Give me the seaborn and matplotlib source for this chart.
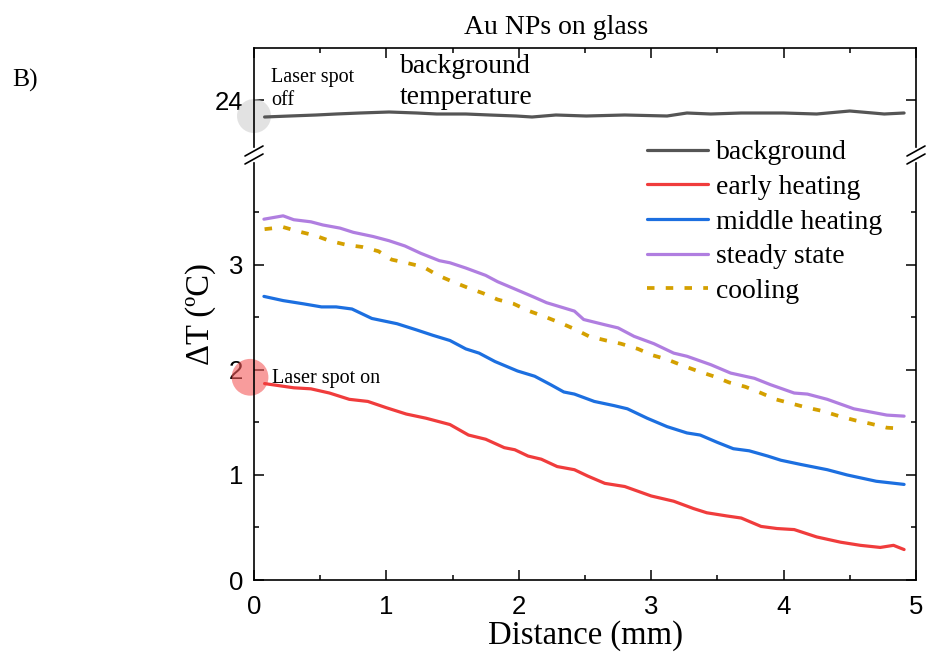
import numpy as np
import pandas as pd
import matplotlib
matplotlib.use("Agg")
import matplotlib.pyplot as plt
from matplotlib.lines import Line2D
import seaborn as sns

# ---------------- data ----------------
bg_x = [0.08, 0.27, 0.47, 0.62, 0.80, 1.02, 1.23, 1.38, 1.60, 1.78, 1.98, 2.10, 2.28, 2.51,
        2.80, 3.12, 3.27, 3.45, 3.68, 4.00, 4.25, 4.50, 4.76, 4.91]
bg_y = [23.83, 23.84, 23.85, 23.86, 23.87, 23.88, 23.87, 23.86, 23.86, 23.85, 23.84, 23.83, 23.85, 23.84,
        23.85, 23.84, 23.87, 23.86, 23.87, 23.87, 23.86, 23.89, 23.86, 23.87]

early_x = [0.08, 0.30, 0.43, 0.57, 0.72, 0.86, 1.00, 1.15, 1.30, 1.48, 1.62, 1.75, 1.89, 1.97, 2.07,
           2.17, 2.29, 2.42, 2.52, 2.65, 2.80, 3.00, 3.17, 3.32, 3.42, 3.57, 3.68, 3.83, 3.95, 4.08,
           4.25, 4.43, 4.58, 4.73, 4.83, 4.91]
early_y = [1.87, 1.83, 1.82, 1.78, 1.72, 1.70, 1.64, 1.58, 1.54, 1.48, 1.38, 1.34, 1.26, 1.24, 1.18,
           1.15, 1.08, 1.05, 0.99, 0.92, 0.89, 0.80, 0.75, 0.68, 0.64, 0.61, 0.59, 0.51, 0.49, 0.48,
           0.41, 0.36, 0.33, 0.31, 0.33, 0.29]

middle_x = [0.075, 0.22, 0.37, 0.51, 0.62, 0.74, 0.89, 1.08, 1.23, 1.35, 1.48, 1.60, 1.70, 1.82, 1.99,
            2.12, 2.24, 2.34, 2.42, 2.57, 2.72, 2.82, 2.97, 3.12, 3.27, 3.37, 3.50, 3.62, 3.74, 3.88,
            3.98, 4.13, 4.33, 4.48, 4.70, 4.91]
middle_y = [2.70, 2.66, 2.63, 2.60, 2.60, 2.58, 2.49, 2.44, 2.38, 2.33, 2.28, 2.20, 2.16, 2.08, 1.99,
            1.94, 1.86, 1.79, 1.77, 1.70, 1.66, 1.63, 1.54, 1.46, 1.40, 1.38, 1.31, 1.25, 1.23, 1.18,
            1.14, 1.10, 1.05, 1.00, 0.94, 0.91]

steady_x = [0.075, 0.22, 0.30, 0.43, 0.52, 0.65, 0.75, 0.90, 1.02, 1.14, 1.26, 1.40, 1.48, 1.60, 1.75,
            1.84, 1.99, 2.12, 2.21, 2.42, 2.49, 2.65, 2.75, 2.87, 3.02, 3.17, 3.27, 3.45, 3.60, 3.78,
            3.90, 4.08, 4.18, 4.33, 4.53, 4.78, 4.91]
steady_y = [3.435, 3.467, 3.43, 3.41, 3.38, 3.35, 3.31, 3.27, 3.23, 3.18, 3.11, 3.04, 3.02, 2.97, 2.90,
            2.84, 2.76, 2.69, 2.64, 2.56, 2.48, 2.43, 2.40, 2.32, 2.25, 2.16, 2.13, 2.05, 1.97, 1.92,
            1.86, 1.78, 1.77, 1.72, 1.63, 1.57, 1.56]

cool_x = [0.08, 0.22, 0.33, 0.46, 0.57, 0.70, 0.82, 0.94, 1.04, 1.15, 1.28, 1.39, 1.50, 1.62, 1.73,
          1.84, 1.96, 2.08, 2.19, 2.31, 2.42, 2.53, 2.66, 2.77, 2.90, 3.01, 3.12, 3.24, 3.35, 3.47,
          3.59, 3.71, 3.83, 3.94, 4.06, 4.18, 4.29, 4.42, 4.54, 4.65, 4.78, 4.91]
cool_y = [3.34, 3.36, 3.32, 3.28, 3.23, 3.19, 3.17, 3.13, 3.05, 3.02, 2.98, 2.90, 2.84, 2.78, 2.73,
          2.67, 2.63, 2.56, 2.51, 2.45, 2.39, 2.32, 2.28, 2.25, 2.20, 2.14, 2.10, 2.04, 1.99, 1.94,
          1.88, 1.84, 1.78, 1.72, 1.68, 1.64, 1.61, 1.56, 1.52, 1.49, 1.45, 1.44]

labels = ["background", "early heating", "middle heating", "steady state", "cooling"]
colors = ["#555555", "#f03c3c", "#1c6fe0", "#b07ee0", "#d4a000"]

x_ticks = [0, 1, 2, 3, 4, 5]
y_ticks_low = [0, 1, 2, 3]
y_ticks_top = [24]

laser_off_pt = (0.0, 23.84)
laser_on_pt = (-0.03, 1.93)

# ---------------- style ----------------
sns.set_style("ticks")
plt.rcParams["font.family"] = ["Liberation Sans", "DejaVu Sans"]
for key in ("text.color", "axes.labelcolor", "xtick.color", "ytick.color", "axes.edgecolor"):
    plt.rcParams[key] = "black"
serif = ["Liberation Serif", "DejaVu Serif"]

W, H = 926, 657
fig = plt.figure(figsize=(W / 100, H / 100), dpi=100)

def fx(px):
    return px / W

def fy(py):
    return 1 - py / H

left, right = 254, 916
ax_top = fig.add_axes([fx(left), fy(147), fx(right - left), fy(48) - fy(147)])
ax_low = fig.add_axes([fx(left), fy(580), fx(right - left), fy(163) - fy(580)])

lw = 2.3
dash = (0, (2.0, 3.0))
low_series = [(early_x, early_y), (middle_x, middle_y), (steady_x, steady_y), (cool_x, cool_y)]

sns.lineplot(x=bg_x, y=bg_y, ax=ax_top, color=colors[0], lw=lw)
for i, (xs, ys) in enumerate(low_series):
    if i == 3:
        sns.lineplot(x=xs, y=ys, ax=ax_low, color=colors[i + 1], lw=2.7, linestyle=dash)
    else:
        sns.lineplot(x=xs, y=ys, ax=ax_low, color=colors[i + 1], lw=lw)

for ax in (ax_top, ax_low):
    ax.set_xlim(0, 5)
    ax.set_xticks(x_ticks)
    ax.set_xticks(np.arange(0.5, 5, 1.0), minor=True)
    for s in ax.spines.values():
        s.set_linewidth(1.2)
        s.set_color("black")
    ax.tick_params(which="both", direction="in", width=1.1, color="black", labelcolor="black",
                   left=True, right=True, labelsize=18.5)
    ax.tick_params(axis="y", which="both", pad=8)
    ax.tick_params(axis="x", which="both", pad=11)
    ax.tick_params(which="major", length=7)
    ax.tick_params(which="minor", length=3.5)
    ax.set_xlabel("")
    ax.set_ylabel("")

ax_top.set_ylim(23.53, 24.52)
ax_top.set_yticks(y_ticks_top)
ax_top.set_yticks([], minor=True)
ax_top.spines["bottom"].set_visible(False)
ax_top.tick_params(axis="x", which="both", bottom=False, top=True, labelbottom=False)

ax_low.set_ylim(0, 3.97)
ax_low.set_yticks(y_ticks_low)
ax_low.set_yticks(np.arange(0.5, 4, 1.0), minor=True)
ax_low.spines["top"].set_visible(False)
ax_low.tick_params(axis="x", which="both", top=False, bottom=True)

# break marks
for xc in (left, right):
    for yc in (151, 159):
        fig.add_artist(Line2D([fx(xc - 9), fx(xc + 9)], [fy(yc + 5), fy(yc - 5)],
                              color="black", lw=1.2))

# circles
ax_top.scatter([laser_off_pt[0]], [laser_off_pt[1]], s=600, color="#d0d0d0", alpha=0.6,
               edgecolors="none", clip_on=False, zorder=1)
ax_low.scatter([laser_on_pt[0]], [laser_on_pt[1]], s=700, color="#f45a5a", alpha=0.6,
               edgecolors="none", clip_on=False, zorder=1)

# texts
fig.text(fx(271), fy(89), "Laser spot\noff", family=serif, fontsize=14.5, va="center",
         ha="left", linespacing=1.3)
fig.text(fx(400), fy(82), "background\ntemperature", family=serif, fontsize=20, va="center",
         ha="left", linespacing=1.3)
fig.text(fx(272), fy(378), "Laser spot on", family=serif, fontsize=14.5, va="center", ha="left")
fig.text(fx(556), fy(28), "Au NPs on glass", family=serif, fontsize=20, ha="center", va="center")
fig.text(fx(25), fy(80), "B)", family=serif, fontsize=18.5, ha="center", va="center")
fig.text(fx(585), fy(636), "Distance (mm)", family=serif, fontsize=23.5, ha="center", va="center")
fig.text(fx(201), fy(314), "ΔT (ºC)", family=serif, fontsize=23.5, ha="center", va="center",
         rotation=90)

# legend
handles = [Line2D([0], [0], color=colors[0], lw=lw),
           Line2D([0], [0], color=colors[1], lw=lw),
           Line2D([0], [0], color=colors[2], lw=lw),
           Line2D([0], [0], color=colors[3], lw=lw),
           Line2D([0], [0], color=colors[4], lw=2.7, linestyle=dash)]
fig.legend(handles, labels, loc="upper left", bbox_to_anchor=(fx(647), fy(140)),
           frameon=False, prop={"family": serif, "size": 20}, borderpad=0,
           borderaxespad=0, handlelength=2.2, handletextpad=0.3, labelspacing=0.33)

fig.savefig("out.png", dpi=100)
